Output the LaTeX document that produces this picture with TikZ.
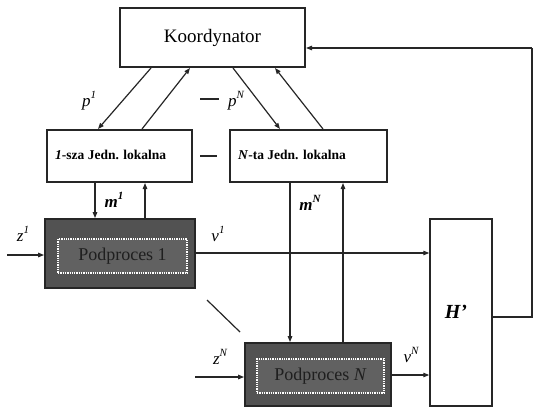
\documentclass[tikz,border=0pt]{standalone}
\usepackage{fontspec}
\setmainfont{Liberation Serif}
\usetikzlibrary{arrows.meta}
\newcommand{\supr}[1]{\raisebox{0.45em}{\fontsize{11}{12}\selectfont\itshape #1}}
\begin{document}
\begin{tikzpicture}[x=1pt,y=-1pt,
  box/.style={draw=black!85, line width=2pt, fill=white, inner sep=0pt},
  procbox/.style={draw=black!85, line width=1.8pt, fill=black!68, inner sep=0pt},
  innerbox/.style={draw=white, densely dotted, line width=1.3pt, fill=black!62, inner sep=0pt},
  conn/.style={draw=black!85, line width=1.2pt},
  arr/.style={conn, -{Triangle[length=6pt,width=4.5pt]}},
  lab/.style={font=\fontsize{17}{19}\selectfont\itshape, inner sep=0pt},
  loctext/.style={font=\fontsize{13.5}{16}\selectfont\bfseries, inner sep=0pt, anchor=west},
  proctext/.style={font=\fontsize{18}{20}\selectfont, text=black!88, inner sep=0pt}
]
\useasboundingbox (0,0) rectangle (534,409);

% boxes
\node[box, minimum width=185pt, minimum height=59pt] (koord) at (212.5,37.5) {};
\node[font=\fontsize{19}{22}\selectfont, inner sep=0pt] (koordt) at (koord.center) {Koordynator};

\node[box, minimum width=145pt, minimum height=52pt] (loc1) at (119.5,156) {};
\node[loctext] (loc1t) at (55,155) {\textit{1}-sza Jedn. lokalna};

\node[box, minimum width=157pt, minimum height=52pt] (locN) at (308.5,156) {};
\node[loctext] (locNt) at (238,155) {\textit{N}-ta Jedn. lokalna};

\node[procbox, minimum width=150pt, minimum height=69pt] (proc1) at (120,253.5) {};
\node[innerbox, minimum width=129pt, minimum height=34pt] (in1) at (122.5,256) {};
\node[proctext] (p1t) at (in1.center) {Podproces 1};

\node[procbox, minimum width=146pt, minimum height=63pt] (procN) at (318,374.5) {};
\node[innerbox, minimum width=127pt, minimum height=34pt] (inN) at (320.5,376) {};
\node[proctext] (pNt) at (inN.center) {Podproces \textit{N}};

\node[draw=black!85, line width=1.5pt, fill=white, minimum width=62pt, minimum height=187pt, inner sep=0pt] (H) at (461,312.5) {};
\node[lab, font=\fontsize{20}{22}\selectfont\itshape\bfseries] (Ht) at (456,312) {H'};

% coordinator <-> local units
\draw[arr] (koord.south -| 151,0) -- (loc1.north -| 98,0);
\draw[arr] (loc1.north -| 142,0) -- (koord.south -| 190,0);
\draw[arr] (koord.south -| 233,0) -- (locN.north -| 280,0);
\draw[arr] (locN.north -| 323,0) -- (koord.south -| 275,0);

\node[lab] (lp1) at (89,101) {p\supr{1}};
\coordinate (d1a) at (200,99);
\coordinate (d1b) at (219,99);
\draw[conn] (d1a) -- (d1b);
\node[lab] (lpN) at (236,101) {p\supr{N}};
\coordinate (d2a) at (200,156);
\coordinate (d2b) at (217,156);
\draw[conn] (d2a) -- (d2b);

% local units <-> processes
\draw[arr] (loc1.south -| 95,0) -- (proc1.north -| 95,0);
\draw[arr] (proc1.north -| 145,0) -- (loc1.south -| 145,0);
\node[lab] (lm1) at (114,200) {\bfseries m\supr{1}};

\draw[arr] (locN.south -| 290,0) -- (procN.north -| 290,0);
\draw[arr] (procN.north -| 343,0) -- (locN.south -| 343,0);
\node[lab] (lmN) at (310,203) {\bfseries m\supr{N}};

% inputs
\coordinate (z1s) at (7,255);
\draw[arr] (z1s) -- (proc1.west |- z1s);
\node[lab] (lz1) at (23,234) {z\supr{1}};
\coordinate (zNs) at (195,377);
\draw[arr] (zNs) -- (procN.west |- zNs);
\node[lab] (lzN) at (220,357) {z\supr{N}};

% outputs
\coordinate (v1y) at (0,253);
\draw[arr] (proc1.east |- v1y) -- (H.west |- v1y);
\node[lab] (lv1) at (218,234) {v\supr{1}};
\coordinate (vNy) at (0,375);
\draw[arr] (procN.east |- vNy) -- (H.west |- vNy);
\node[lab] (lvN) at (411,355) {v\supr{N}};

% ellipsis stroke
\coordinate (e1) at (207,300);
\coordinate (e2) at (240,332);
\draw[conn] (e1) -- (e2);

% feedback
\coordinate (fb1) at (532,317);
\coordinate (fb2) at (532,48);
\draw[conn] (H.east |- fb1) -- (fb1) -- (fb2);
\draw[arr] (fb2) -- (koord.east |- fb2);
\end{tikzpicture}
\end{document}
